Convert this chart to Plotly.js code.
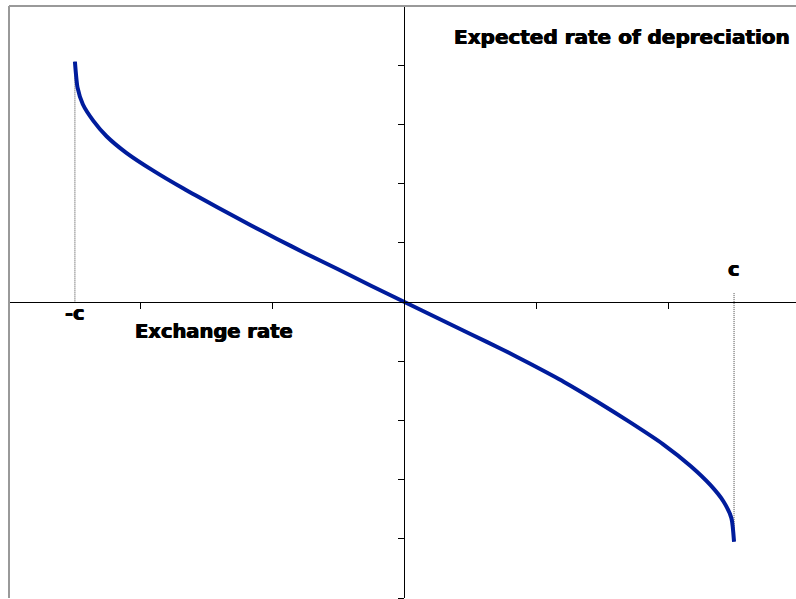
<!DOCTYPE html>
<html>
<head>
<meta charset="utf-8">
<script src="https://cdn.plot.ly/plotly-3.0.1.min.js"></script>
<style>html,body{margin:0;padding:0;background:#fff;}</style>
</head>
<body>
<div id="chart" style="width:796px;height:599px;"></div>
<script>
// Band edge (target-zone limit)
const cValue = 2.5;
// Exchange rate (x) and expected rate of depreciation (y)
const xRate = [-2.50, -2.48, -2.44, -2.36, -2.26, -2.11, -1.90, -1.68, -1.42, -1.17, -0.97, -0.75, -0.5, -0.25, 0,
               0.25, 0.5, 0.75, 0.95, 1.21, 1.46, 1.71, 1.96, 2.17, 2.32, 2.42, 2.48, 2.50];
const expDep = [4.06, 3.62, 3.34, 3.06, 2.80, 2.52, 2.21, 1.92, 1.60, 1.30, 1.07, 0.82, 0.55, 0.27, 0,
                -0.27, -0.54, -0.81, -1.04, -1.35, -1.68, -2.03, -2.40, -2.77, -3.09, -3.37, -3.65, -4.05];
const rightGuideTop = 0.15;
const xLabel = 'Exchange rate';
const yLabel = 'Expected rate of depreciation';

const last = expDep.length - 1;
const guide = {color: '#444', width: 1, dash: '1px,1px'};
const traces = [
  {x: [-cValue, -cValue], y: [expDep[0], 0], mode: 'lines', line: guide, hoverinfo: 'skip'},
  {x: [cValue, cValue], y: [rightGuideTop, expDep[last]], mode: 'lines', line: guide, hoverinfo: 'skip'},
  {x: xRate, y: expDep, mode: 'lines',
   line: {color: '#001c9c', width: 4, shape: 'spline', smoothing: 0.6}}
];

const xr = [-3, 2.97];
const axCommon = {showgrid: false, zeroline: false, showline: true, linecolor: '#000', linewidth: 1,
  ticks: 'outside', ticklen: 6, tickcolor: '#000', tickwidth: 1, showticklabels: false,
  dtick: 1, tick0: 0, anchor: 'free', fixedrange: true};

const shadow = '0.5px 0 0 #000, -0.5px 0 0 #000';
const fontBig = {family: 'DejaVu Sans', size: 20, color: '#000', weight: 'bold', shadow: shadow};
const font = {family: 'DejaVu Sans', size: 19.5, color: '#000', weight: 'bold', shadow: shadow};
const layout = {
  width: 796, height: 599,
  margin: {l: 9, r: 0, t: 6, b: 1, pad: 0},
  paper_bgcolor: '#fff', plot_bgcolor: '#fff',
  showlegend: false,
  xaxis: Object.assign({}, axCommon, {range: xr, position: 0.5}),
  yaxis: Object.assign({}, axCommon, {range: [-5, 5], position: (0 - xr[0]) / (xr[1] - xr[0])}),
  shapes: [
    {type: 'line', xref: 'paper', yref: 'paper', x0: 0, x1: 0, y0: 0, y1: 1, line: {color: '#999', width: 2}},
    {type: 'line', xref: 'paper', yref: 'paper', x0: 0, x1: 1, y0: 1, y1: 1, line: {color: '#999', width: 2}}
  ],
  annotations: [
    {text: yLabel, xref: 'paper', yref: 'paper', x: 0.779, y: 0.948, xanchor: 'center', yanchor: 'middle', showarrow: false, font: fontBig},
    {text: xLabel, xref: 'paper', yref: 'paper', x: 0.2605, y: 0.451, xanchor: 'center', yanchor: 'middle', showarrow: false, font: font},
    {text: '-c', xref: 'x', yref: 'y', x: -cValue, y: -0.2, xanchor: 'center', yanchor: 'middle', showarrow: false, font: font},
    {text: 'c', xref: 'x', yref: 'y', x: cValue, y: 0.55, xanchor: 'center', yanchor: 'middle', showarrow: false, font: font}
  ]
};
Plotly.newPlot('chart', traces, layout, {staticPlot: true, displayModeBar: false});
</script>
</body>
</html>
